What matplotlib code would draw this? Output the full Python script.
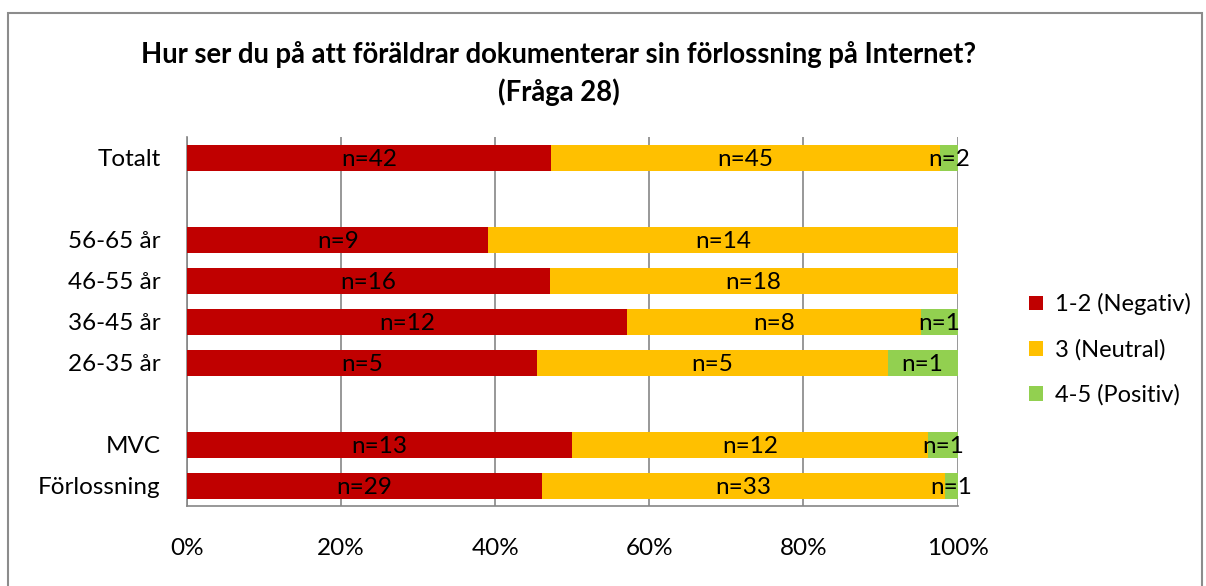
import matplotlib.pyplot as plt
from matplotlib.patches import Rectangle

plt.rcParams['font.family'] = ['Lato', 'DejaVu Sans']

# rows from top to bottom; empty strings are spacer rows
categories = ['Totalt', '', '56-65 år', '46-55 år', '36-45 år', '26-35 år', '', 'MVC', 'Förlossning']
negativ = [42, 0, 9, 16, 12, 5, 0, 13, 29]
neutral = [45, 0, 14, 18, 8, 5, 0, 12, 33]
positiv = [2, 0, 0, 0, 1, 1, 0, 1, 1]

series_names = ['1-2 (Negativ)', '3 (Neutral)', '4-5 (Positiv)']
colors = ['#C00000', '#FFC000', '#92D050']
title = 'Hur ser du på att föräldrar dokumenterar sin förlossning på Internet?\n(Fråga 28)'

fig = plt.figure(figsize=(12.06, 5.86), dpi=100)
ax = fig.add_axes([0.155, 0.136, 0.639, 0.630])

# outer chart frame
fig.patches.append(Rectangle((0.007, -0.01), 0.99, 0.988, transform=fig.transFigure,
                             fill=False, edgecolor='#8c8c8c', linewidth=1.5))

y = list(range(len(categories)))
totals = [a + b + c for a, b, c in zip(negativ, neutral, positiv)]
left = [0.0] * len(categories)
for name, counts, col in zip(series_names, [negativ, neutral, positiv], colors):
    shares = [c / t if t else 0 for c, t in zip(counts, totals)]
    ax.barh(y, shares, left=left, height=0.63, color=col, label=name, zorder=3)
    for yi, s, l, c in zip(y, shares, left, counts):
        if c > 0:
            ax.text(l + s / 2, yi + 0.05, f'n={c}', ha='center', va='center',
                    fontsize=17.5, color='black', zorder=4)
    left = [l + s for l, s in zip(left, shares)]

ax.set_xlim(0, 1)
ax.set_ylim(len(categories) - 0.5, -0.5)
ax.set_yticks(y)
ax.set_yticklabels(categories, fontsize=17.5)
ax.set_xticks([0, 0.2, 0.4, 0.6, 0.8, 1.0])
ax.set_xticklabels(['0%', '20%', '40%', '60%', '80%', '100%'], fontsize=17.5)
ax.tick_params(axis='x', length=0, pad=23)
ax.tick_params(axis='y', length=0, pad=19)
ax.grid(axis='x', color='#868686', linewidth=1.2, zorder=0)
for side in ['top', 'right']:
    ax.spines[side].set_visible(False)
for side in ['left', 'bottom']:
    ax.spines[side].set_color('#868686')
    ax.spines[side].set_linewidth(1.2)

fig.text(0.463, 0.875, title, ha='center', va='center', fontsize=19.8,
         fontweight='bold', linespacing=1.45)

ax.legend(loc='center left', bbox_to_anchor=(1.065, 0.425), frameon=False,
          fontsize=17, handlelength=0.6, handleheight=0.6, labelspacing=1.0,
          handletextpad=0.5)

fig.savefig('out.png', dpi=100)
